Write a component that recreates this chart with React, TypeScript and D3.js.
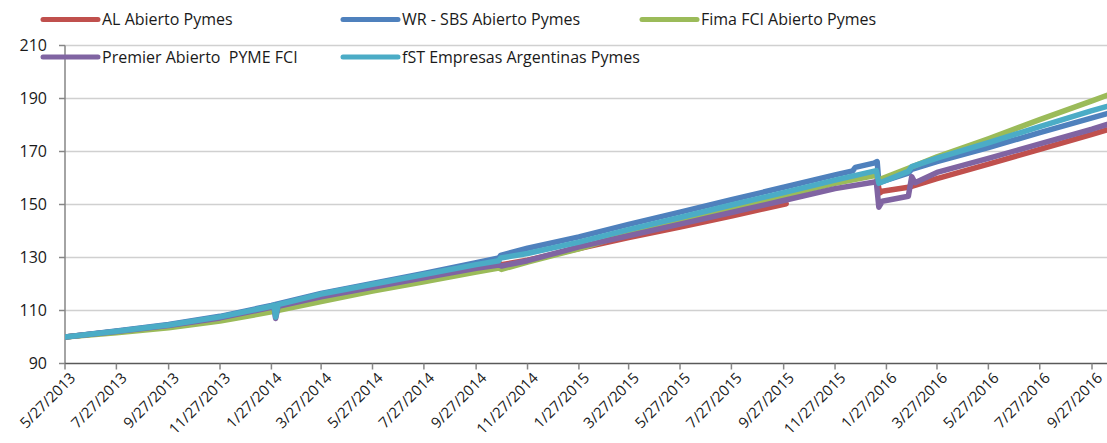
import React from "react";
import * as d3 from "d3";

// ---------- DATA ----------
const tickLabels = [
  "5/27/2013", "7/27/2013", "9/27/2013", "11/27/2013", "1/27/2014", "3/27/2014",
  "5/27/2014", "7/27/2014", "9/27/2014", "11/27/2014", "1/27/2015", "3/27/2015",
  "5/27/2015", "7/27/2015", "9/27/2015", "11/27/2015", "1/27/2016", "3/27/2016",
  "5/27/2016", "7/27/2016", "9/27/2016",
];
const yTicks = [90, 110, 130, 150, 170, 190, 210];

type Pt = [string, number | null];

const alAbierto: Pt[] = [
  ["2013-05-27", 100], ["2013-07-27", 102.1], ["2013-09-27", 104.3], ["2013-11-27", 107.2],
  ["2014-01-27", 111.0], ["2014-03-27", 115.3], ["2014-05-27", 119.0], ["2014-07-27", 122.6],
  ["2014-09-27", 126.3], ["2014-10-24", 127.7], ["2014-10-27", 127.3], ["2014-11-27", 129.0],
  ["2015-01-27", 133.4], ["2015-03-27", 137.5], ["2015-05-27", 141.5], ["2015-07-27", 145.6],
  ["2015-09-30", 150.3], ["2015-10-01", null],
  ["2016-01-16", 159.5], ["2016-01-19", 154.3], ["2016-01-22", 155.0], ["2016-02-22", 156.5],
  ["2016-03-27", 159.8], ["2016-05-27", 165.2], ["2016-07-27", 170.8], ["2016-09-27", 176.5],
  ["2016-10-15", 178.2],
];

const wrSbs: Pt[] = [
  ["2013-05-27", 100], ["2013-07-27", 102.3], ["2013-09-27", 104.7], ["2013-11-27", 107.8],
  ["2014-01-27", 111.9], ["2014-03-27", 116.4], ["2014-05-27", 120.2], ["2014-07-27", 124.0],
  ["2014-09-27", 128.0], ["2014-10-24", 129.8], ["2014-10-26", 130.8], ["2014-11-27", 133.5],
  ["2015-01-27", 137.8], ["2015-03-27", 142.5], ["2015-05-27", 147.1], ["2015-07-27", 151.8],
  ["2015-09-27", 156.5], ["2015-11-27", 161.2], ["2015-12-18", 162.7], ["2015-12-21", 164.0],
  ["2016-01-12", 165.6], ["2016-01-16", 166.2], ["2016-01-18", 158.3], ["2016-02-22", 161.8],
  ["2016-02-26", 163.3], ["2016-03-27", 166.2], ["2016-05-27", 171.5], ["2016-07-27", 177.1],
  ["2016-09-27", 182.7], ["2016-10-15", 184.3],
];

const fimaFci: Pt[] = [
  ["2013-05-27", 100], ["2013-07-27", 101.6], ["2013-09-27", 103.5], ["2013-11-27", 106.0],
  ["2014-01-27", 109.5], ["2014-03-27", 113.4], ["2014-05-27", 117.3], ["2014-07-27", 120.8],
  ["2014-09-27", 124.5], ["2014-10-24", 126.0], ["2014-10-27", 125.5], ["2014-11-27", 128.3],
  ["2015-01-27", 133.3], ["2015-03-27", 139.0], ["2015-05-27", 144.0], ["2015-07-27", 148.7],
  ["2015-09-27", 153.3], ["2015-11-27", 158.0], ["2016-01-15", 161.0], ["2016-01-18", 159.3],
  ["2016-02-22", 163.7], ["2016-03-27", 168.0], ["2016-05-27", 174.8], ["2016-07-27", 182.0],
  ["2016-09-27", 189.1], ["2016-10-15", 191.2],
];

const premier: Pt[] = [
  ["2013-05-27", 100], ["2013-07-27", 102.1], ["2013-09-27", 104.3], ["2013-11-27", 107.2],
  ["2014-01-27", 111.2], ["2014-01-30", 111.4], ["2014-02-01", 107.0], ["2014-02-04", 111.6],
  ["2014-03-27", 115.2], ["2014-05-27", 118.8], ["2014-07-27", 122.3], ["2014-09-27", 125.9],
  ["2014-10-24", 127.2], ["2014-10-27", 126.8], ["2014-11-27", 128.8], ["2015-01-27", 134.0],
  ["2015-03-27", 138.2], ["2015-05-27", 142.6], ["2015-07-27", 147.0], ["2015-09-27", 151.5],
  ["2015-11-27", 156.0], ["2016-01-15", 158.6], ["2016-01-18", 149.0], ["2016-01-22", 151.2],
  ["2016-02-22", 153.1], ["2016-02-26", 160.5], ["2016-03-01", 158.2], ["2016-03-27", 162.1],
  ["2016-05-27", 167.4], ["2016-07-27", 172.9], ["2016-09-27", 178.4], ["2016-10-15", 180.2],
];

const fstEmpresas: Pt[] = [
  ["2013-05-27", 100], ["2013-07-27", 102.2], ["2013-09-27", 104.5], ["2013-11-27", 107.6],
  ["2014-01-27", 111.6], ["2014-01-30", 112.0], ["2014-02-01", 107.5], ["2014-02-04", 112.2],
  ["2014-03-27", 116.2], ["2014-05-27", 119.9], ["2014-07-27", 123.6], ["2014-09-27", 127.3],
  ["2014-10-24", 128.8], ["2014-10-26", 129.8], ["2014-11-27", 131.5], ["2015-01-27", 135.8],
  ["2015-03-27", 140.5], ["2015-05-27", 145.1], ["2015-07-27", 149.8], ["2015-09-27", 154.5],
  ["2015-11-27", 159.2], ["2016-01-15", 162.8], ["2016-01-18", 158.0], ["2016-02-22", 162.5],
  ["2016-02-26", 164.3], ["2016-03-27", 167.5], ["2016-05-27", 173.3], ["2016-07-27", 179.4],
  ["2016-09-27", 185.4], ["2016-10-15", 187.0],
];

const seriesNames = [
  "AL Abierto Pymes",
  "WR - SBS Abierto Pymes",
  "Fima FCI Abierto Pymes",
  "Premier Abierto  PYME FCI",
  "fST Empresas Argentinas Pymes",
];
const seriesData = [alAbierto, wrSbs, fimaFci, premier, fstEmpresas];
const seriesColors = ["#C0504D", "#4F81BD", "#9BBB59", "#8064A2", "#4BACC6"];

// ---------- LAYOUT ----------
const W = 1107;
const H = 443;
const plotLeft = 65;
const plotRight = 1107;
const yTop = 45.5;
const yBottom = 363.5;
const FONT = "'Open Sans', 'Noto Sans', sans-serif";

const parseISO = d3.timeParse("%Y-%m-%d");
const parseTick = d3.timeParse("%m/%d/%Y");

export default function App() {
  const x = d3
    .scaleTime()
    .domain([parseTick("5/27/2013") as Date, parseTick("9/27/2016") as Date])
    .range([plotLeft, 1092]);
  const y = d3.scaleLinear().domain([90, 210]).range([yBottom, yTop]);

  const line = d3
    .line<Pt>()
    .defined((p) => p[1] !== null)
    .x((p) => x(parseISO(p[0]) as Date))
    .y((p) => y(p[1] as number));

  const legendPos = [
    { lx: 43, ly: 19.5 },
    { lx: 343, ly: 19.5 },
    { lx: 642, ly: 19.5 },
    { lx: 43, ly: 57 },
    { lx: 343, ly: 57 },
  ];

  return (
    <svg
      width={W}
      height={H}
      style={{ position: "absolute", left: 0, top: 0, background: "#fff" }}
      fontFamily={FONT}
    >
      <defs>
        <clipPath id="plotClip">
          <rect x={plotLeft} y={0} width={plotRight - plotLeft} height={H} />
        </clipPath>
      </defs>
      {/* gridlines */}
      {yTicks.slice(1).map((t) => (
        <line key={"g" + t} x1={plotLeft} x2={plotRight} y1={y(t)} y2={y(t)} stroke="#d0d0d0" strokeWidth={1.5} />
      ))}
      {/* y axis */}
      <line x1={plotLeft} x2={plotLeft} y1={yTop} y2={yBottom} stroke="#868686" strokeWidth={1.5} />
      {yTicks.map((t) => (
        <g key={"y" + t}>
          <line x1={plotLeft - 6} x2={plotLeft} y1={y(t)} y2={y(t)} stroke="#868686" strokeWidth={1.5} />
          <text x={47} y={y(t)} dy="0.35em" textAnchor="end" fontSize={16} fill="#1a1a1a">
            {t}
          </text>
        </g>
      ))}
      {/* x axis */}
      <line x1={plotLeft} x2={plotRight} y1={yBottom} y2={yBottom} stroke="#595959" strokeWidth={1.5} />
      {tickLabels.map((lab) => {
        const tx = x(parseTick(lab) as Date);
        return (
          <g key={lab}>
            <line x1={tx} x2={tx} y1={yBottom} y2={yBottom + 6} stroke="#868686" strokeWidth={1.5} />
            <text
              transform={`translate(${tx + 4},${yBottom + 8}) rotate(-45)`}
              textAnchor="end"
              dy="0.7em"
              fontSize={15}
              fill="#1a1a1a"
            >
              {lab}
            </text>
          </g>
        );
      })}
      {/* series */}
      <g clipPath="url(#plotClip)">
        {seriesData.map((s, i) => (
          <path
            key={seriesNames[i]}
            d={line(s) || ""}
            fill="none"
            stroke={seriesColors[i]}
            strokeWidth={5.5}
            strokeLinejoin="round"
            strokeLinecap="round"
          />
        ))}
      </g>
      {/* legend */}
      {seriesNames.map((name, i) => (
        <g key={"l" + i}>
          <line
            x1={legendPos[i].lx}
            x2={legendPos[i].lx + 55}
            y1={legendPos[i].ly}
            y2={legendPos[i].ly}
            stroke={seriesColors[i]}
            strokeWidth={5}
            strokeLinecap="round"
          />
          <text
            x={legendPos[i].lx + 59}
            y={legendPos[i].ly}
            dy="0.35em"
            fontSize={16}
            fill="#1a1a1a"
            style={{ whiteSpace: "pre" }}
          >
            {name}
          </text>
        </g>
      ))}
    </svg>
  );
}
